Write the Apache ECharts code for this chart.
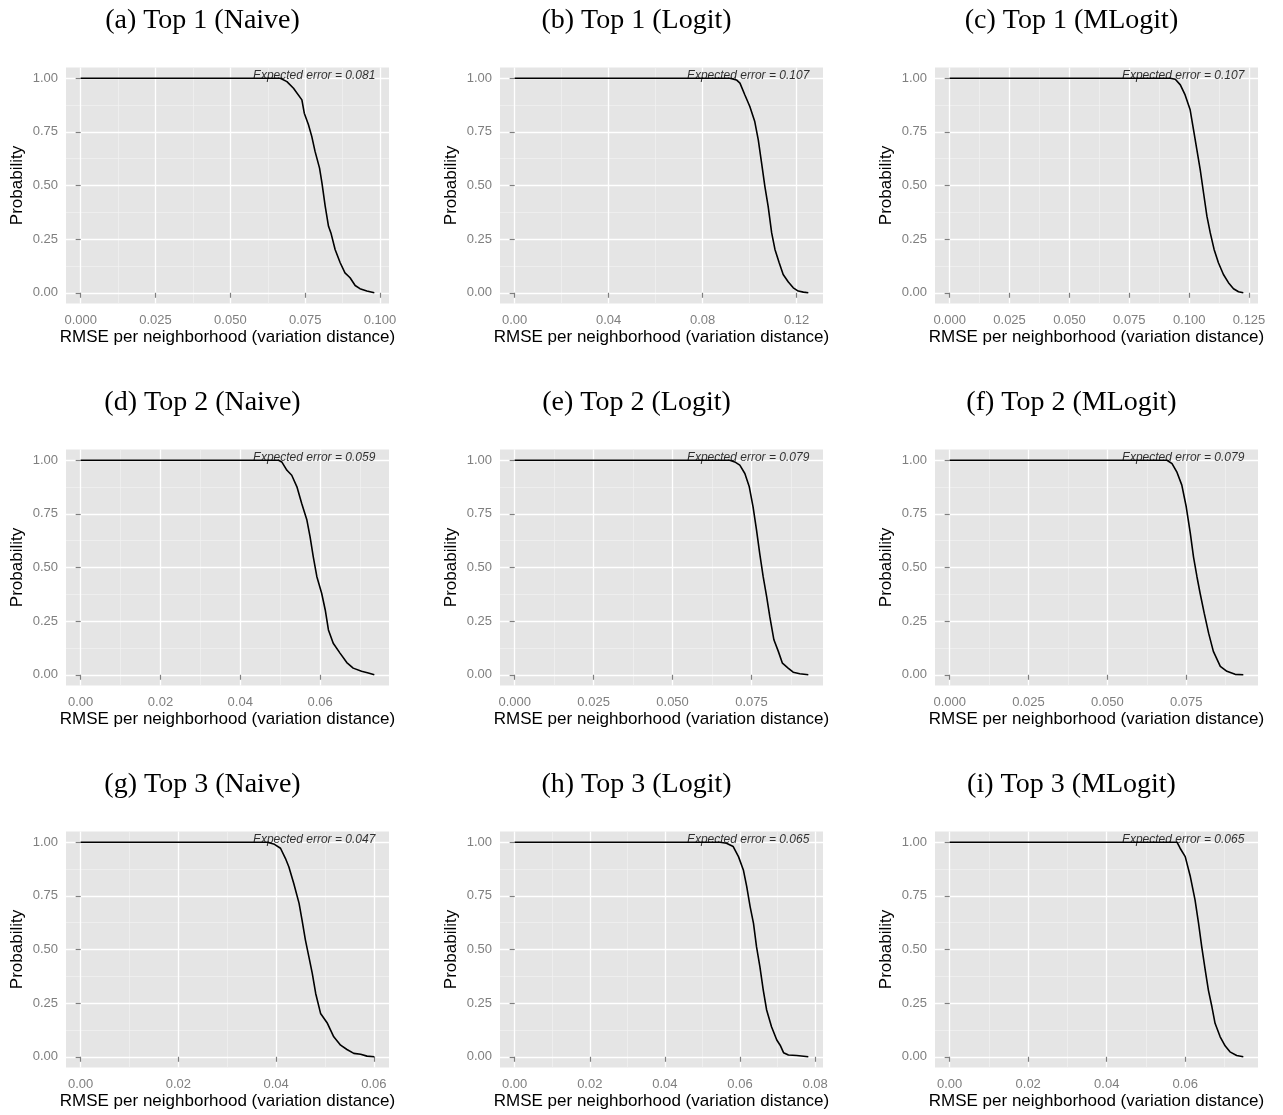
<!DOCTYPE html>
<html><head><meta charset="utf-8">
<script src="https://cdn.jsdelivr.net/npm/echarts@6/dist/echarts.min.js"></script>
<style>html,body{margin:0;padding:0;background:#fff}#c{width:1283px;height:1115px}</style>
</head><body><div id="c"></div>
<script>
const panelTitles = ['(a) Top 1 (Naive)', '(b) Top 1 (Logit)', '(c) Top 1 (MLogit)',
                     '(d) Top 2 (Naive)', '(e) Top 2 (Logit)', '(f) Top 2 (MLogit)',
                     '(g) Top 3 (Naive)', '(h) Top 3 (Logit)', '(i) Top 3 (MLogit)'];
const expectedErrors = ['0.081', '0.107', '0.107', '0.059', '0.079', '0.079', '0.047', '0.065', '0.065'];
const xTickLabels = [
  ['0.000', '0.025', '0.050', '0.075', '0.100'],
  ['0.00', '0.04', '0.08', '0.12'],
  ['0.000', '0.025', '0.050', '0.075', '0.100', '0.125'],
  ['0.00', '0.02', '0.04', '0.06'],
  ['0.000', '0.025', '0.050', '0.075'],
  ['0.000', '0.025', '0.050', '0.075'],
  ['0.00', '0.02', '0.04', '0.06'],
  ['0.00', '0.02', '0.04', '0.06', '0.08'],
  ['0.00', '0.02', '0.04', '0.06']
];
const yTickLabels = ['0.00', '0.25', '0.50', '0.75', '1.00'];
const xAxisTitle = 'RMSE per neighborhood (variation distance)';
const yAxisTitle = 'Probability';

// curves: RMSE (x) and probability (y)
const rmseA = [0, 0.0667, 0.0689, 0.0711, 0.0739, 0.0747, 0.0761, 0.0772, 0.0783, 0.0798, 0.0806, 0.0817, 0.0828, 0.0836, 0.0850, 0.0867, 0.0883, 0.0900, 0.0917, 0.0933, 0.0956, 0.0981];
const probA = [1, 1, 0.984, 0.953, 0.899, 0.837, 0.783, 0.729, 0.659, 0.581, 0.512, 0.403, 0.310, 0.279, 0.202, 0.140, 0.093, 0.070, 0.034, 0.019, 0.008, 0];
const rmseB = [0, 0.0916, 0.0944, 0.0959, 0.0980, 0.1001, 0.1022, 0.1037, 0.1051, 0.1065, 0.1079, 0.1094, 0.1108, 0.1126, 0.1143, 0.1165, 0.1186, 0.1207, 0.1229, 0.1250];
const probB = [1, 1, 0.992, 0.977, 0.922, 0.868, 0.798, 0.713, 0.605, 0.496, 0.403, 0.279, 0.202, 0.140, 0.085, 0.050, 0.023, 0.008, 0.003, 0];
const rmseC = [0, 0.0921, 0.0942, 0.0963, 0.0983, 0.1004, 0.1018, 0.1032, 0.1046, 0.1060, 0.1074, 0.1088, 0.1104, 0.1122, 0.1143, 0.1164, 0.1185, 0.1206, 0.1226];
const probC = [1, 1, 0.995, 0.969, 0.922, 0.853, 0.760, 0.667, 0.574, 0.465, 0.357, 0.279, 0.202, 0.140, 0.085, 0.047, 0.019, 0.005, 0];
const rmseD = [0, 0.0496, 0.0504, 0.0517, 0.0529, 0.0542, 0.0554, 0.0567, 0.0575, 0.0583, 0.0592, 0.0604, 0.0613, 0.0621, 0.0633, 0.0650, 0.0667, 0.0683, 0.0704, 0.0721, 0.0736];
const probD = [1, 1, 0.992, 0.953, 0.930, 0.876, 0.798, 0.721, 0.643, 0.550, 0.457, 0.380, 0.302, 0.209, 0.147, 0.101, 0.057, 0.031, 0.016, 0.008, 0];
const rmseE = [0, 0.0681, 0.0697, 0.0713, 0.0729, 0.0743, 0.0755, 0.0766, 0.0776, 0.0787, 0.0798, 0.0808, 0.0821, 0.0835, 0.0848, 0.0866, 0.0882, 0.0903, 0.0930];
const probE = [1, 1, 0.992, 0.977, 0.938, 0.876, 0.783, 0.674, 0.566, 0.457, 0.364, 0.271, 0.163, 0.109, 0.054, 0.031, 0.012, 0.005, 0];
const rmseF = [0, 0.0689, 0.0705, 0.0720, 0.0736, 0.0750, 0.0763, 0.0773, 0.0784, 0.0794, 0.0807, 0.0821, 0.0836, 0.0858, 0.0879, 0.0905, 0.0931];
const probF = [1, 1, 0.984, 0.946, 0.884, 0.783, 0.659, 0.550, 0.457, 0.380, 0.287, 0.194, 0.109, 0.039, 0.016, 0.002, 0];
const rmseG = [0, 0.0382, 0.0395, 0.0409, 0.0419, 0.0426, 0.0436, 0.0447, 0.0453, 0.0460, 0.0467, 0.0474, 0.0481, 0.0491, 0.0505, 0.0518, 0.0532, 0.0545, 0.0559, 0.0573, 0.0586, 0.0601];
const probG = [1, 1, 0.992, 0.972, 0.925, 0.886, 0.809, 0.715, 0.638, 0.544, 0.467, 0.389, 0.295, 0.202, 0.156, 0.093, 0.054, 0.034, 0.016, 0.012, 0.003, 0];
const rmseH = [0, 0.0547, 0.0564, 0.0582, 0.0596, 0.0609, 0.0618, 0.0627, 0.0636, 0.0644, 0.0653, 0.0662, 0.0671, 0.0684, 0.0698, 0.0707, 0.0716, 0.0729, 0.0751, 0.0782];
const probH = [1, 1, 0.995, 0.980, 0.933, 0.871, 0.793, 0.700, 0.622, 0.513, 0.420, 0.311, 0.218, 0.140, 0.078, 0.054, 0.019, 0.008, 0.006, 0];
const rmseI = [0, 0.0579, 0.0587, 0.0600, 0.0613, 0.0625, 0.0634, 0.0642, 0.0651, 0.0659, 0.0668, 0.0676, 0.0689, 0.0702, 0.0714, 0.0731, 0.0748];
const probI = [1, 1, 0.972, 0.933, 0.840, 0.731, 0.622, 0.513, 0.404, 0.311, 0.233, 0.156, 0.093, 0.050, 0.023, 0.006, 0];

const curvesX = [rmseA, rmseB, rmseC, rmseD, rmseE, rmseF, rmseG, rmseH, rmseI];
const curvesY = [probA, probB, probC, probD, probE, probF, probG, probH, probI];

// layout
const colLeft = [66, 500, 935];
const rowTop = [67.5, 449.5, 831.5];
const panelW = 323, panelH = 236;
const titleY = [21, 403, 784.5];
const sans = 'Liberation Sans, Arial, sans-serif';

function minorBreaks(majors, lo, hi) {
  const step = majors[1] - majors[0];
  const ext = [majors[0] - step].concat(majors, [majors[majors.length - 1] + step]);
  const out = [];
  for (let i = 0; i < ext.length - 1; i++) {
    const m = (ext[i] + ext[i + 1]) / 2;
    if (m > lo && m < hi) out.push(+m.toFixed(6));
  }
  return out;
}

const grids = [], xAxes = [], yAxes = [], series = [], graphics = [];
const yMajor = yTickLabels.map(Number);
const yMin = -0.05, yMax = 1.05;
const yMinor = minorBreaks(yMajor, yMin, yMax);

for (let p = 0; p < 9; p++) {
  const r = Math.floor(p / 3), c = p % 3;
  const xs = curvesX[p], ys = curvesY[p];
  const xLo = Math.min(...xs), xHi = Math.max(...xs);
  const span = xHi - xLo;
  const xMin = xLo - 0.05 * span, xMax = xHi + 0.05 * span;
  const xMajor = xTickLabels[p].map(Number);
  const xMinor = minorBreaks(xMajor, xMin, xMax);
  const labelMap = {};
  xTickLabels[p].forEach(s => { labelMap[Number(s).toFixed(6)] = s; });

  grids.push({ left: colLeft[c], top: rowTop[r], width: panelW, height: panelH, show: true,
    backgroundColor: '#E5E5E5', borderWidth: 0, containLabel: false, outerBoundsMode: 'none' });

  xAxes.push({ type: 'value', gridIndex: p, min: xMin, max: xMax, position: 'bottom', z: 2,
    axisLine: { show: false },
    axisTick: { show: true, customValues: xMajor, length: 5, lineStyle: { color: '#7F7F7F', width: 1.2 } },
    axisLabel: { show: true, customValues: xMajor, margin: 10, color: '#7F7F7F', fontSize: 13, fontFamily: sans,
      formatter: v => labelMap[Number(v).toFixed(6)] || '' },
    splitLine: { show: true, lineStyle: { color: '#FFFFFF', width: 1.3 } },
    name: xAxisTitle, nameLocation: 'middle', nameGap: 25,
    nameTextStyle: { color: '#000', fontSize: 17, fontFamily: sans }
  });
  xAxes.push({ type: 'value', gridIndex: p, min: xMin, max: xMax, position: 'top', z: 1,
    axisLine: { show: false },
    axisTick: { show: false, customValues: xMinor },
    axisLabel: { show: false },
    splitLine: { show: true, lineStyle: { color: '#F2F2F2', width: 0.7 } }
  });
  yAxes.push({ type: 'value', gridIndex: p, min: yMin, max: yMax, position: 'left', z: 2,
    axisLine: { show: false },
    axisTick: { show: true, customValues: yMajor, length: 5, lineStyle: { color: '#7F7F7F', width: 1.2 } },
    axisLabel: { show: true, customValues: yMajor, margin: 8, color: '#7F7F7F', fontSize: 13, fontFamily: sans,
      formatter: v => yTickLabels[yMajor.indexOf(Number(v))] ?? Number(v).toFixed(2) },
    splitLine: { show: true, lineStyle: { color: '#FFFFFF', width: 1.3 } },
    name: yAxisTitle, nameLocation: 'middle', nameGap: 40, nameRotate: 90,
    nameTextStyle: { color: '#000', fontSize: 17, fontFamily: sans }
  });
  yAxes.push({ type: 'value', gridIndex: p, min: yMin, max: yMax, position: 'right', z: 1,
    axisLine: { show: false },
    axisTick: { show: false, customValues: yMinor },
    axisLabel: { show: false },
    splitLine: { show: true, lineStyle: { color: '#F2F2F2', width: 0.7 } }
  });

  series.push({ type: 'line', xAxisIndex: 2 * p, yAxisIndex: 2 * p, z: 3,
    data: xs.map((x, i) => [x, ys[i]]), showSymbol: false, symbol: 'none',
    lineStyle: { color: '#000', width: 1.6 }, silent: true });
  series.push({ type: 'scatter', xAxisIndex: 2 * p, yAxisIndex: 2 * p, z: 4,
    data: [[xHi, 1]], symbolSize: 0, silent: true,
    label: { show: true, position: 'left', distance: 0, offset: [1, -3],
      formatter: 'Expected error = ' + expectedErrors[p],
      fontStyle: 'italic', fontSize: 12, color: '#000', fontFamily: sans } });

  graphics.push({ type: 'text', x: colLeft[c] + panelW / 2 - 25, y: titleY[r],
    style: { text: panelTitles[p], fontSize: 28, fontFamily: 'Liberation Serif, Times New Roman, serif',
      fill: '#000', align: 'center', verticalAlign: 'middle', textAlign: 'center', textVerticalAlign: 'middle' } });
}

const chart = echarts.init(document.getElementById('c'), null, { renderer: 'canvas' });
chart.setOption({
  animation: false,
  backgroundColor: '#FFFFFF',
  grid: grids, xAxis: xAxes, yAxis: yAxes, series: series, graphic: graphics
});
</script>
</body></html>
